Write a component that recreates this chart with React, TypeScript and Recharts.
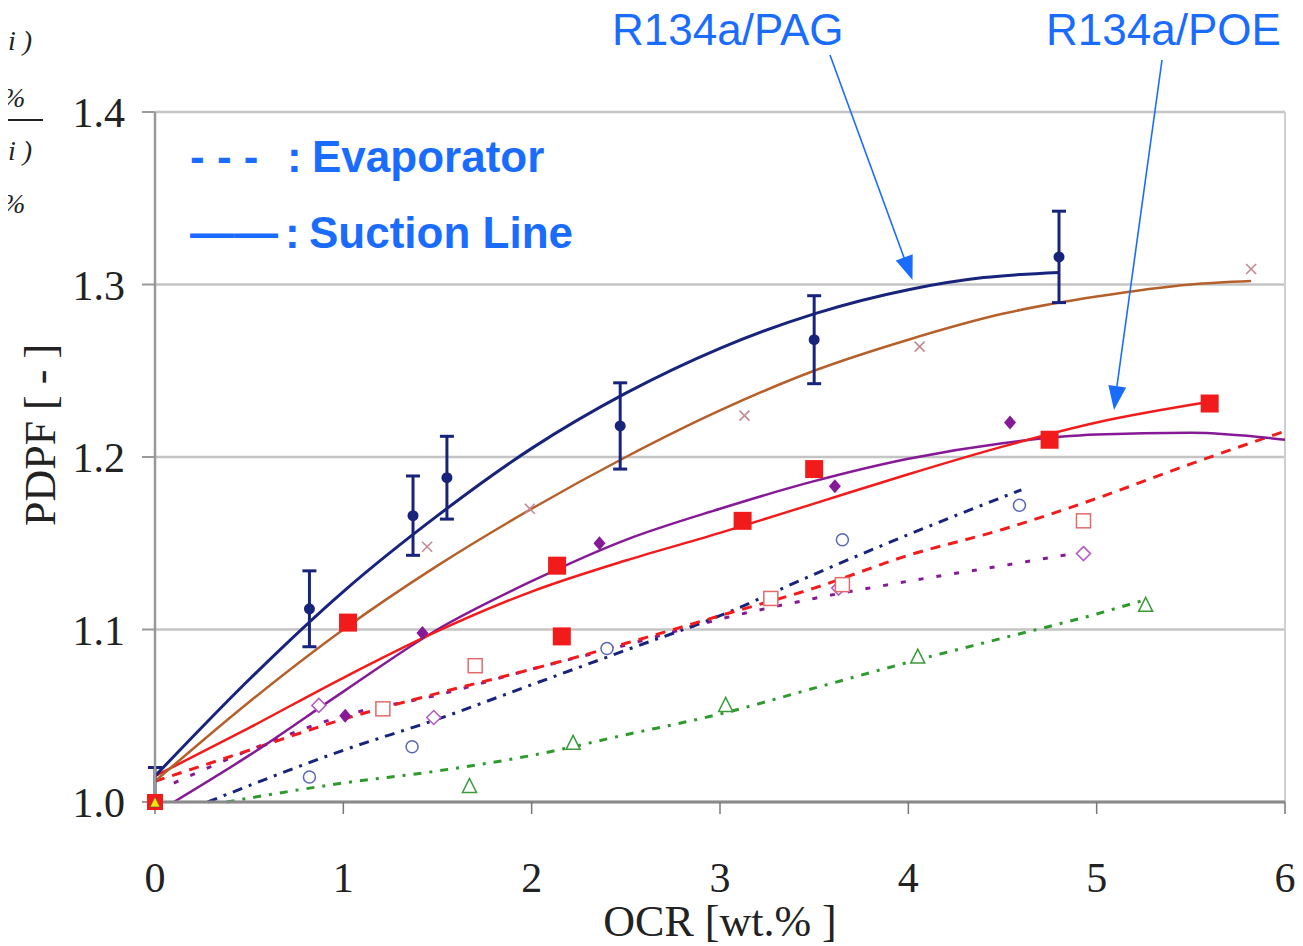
import React from "react";
import {
  ComposedChart,
  Line,
  Scatter,
  XAxis,
  YAxis,
  CartesianGrid,
  ErrorBar,
  ReferenceLine,
  Label,
} from "recharts";

// axis ticks
const xTicks = [0, 1, 2, 3, 4, 5, 6];
const yTicks = [1.0, 1.1, 1.2, 1.3, 1.4];

// R134a/PAG suction line, measured points with error bars
const pagSucX = [0, 0.82, 1.37, 1.55, 2.47, 3.5, 4.8];
const pagSucY = [1.0, 1.112, 1.166, 1.188, 1.218, 1.268, 1.316];
const pagSucErr = [0.02, 0.022, 0.023, 0.024, 0.025, 0.0255, 0.0265];
// fitted curve
const pagSucFitX = [0, 0.5, 1, 1.5, 2, 2.5, 3, 3.5, 4, 4.4, 4.8];
const pagSucFitY = [1.015, 1.071, 1.122, 1.166, 1.205, 1.237, 1.263, 1.283, 1.297, 1.304, 1.307];

// brown curve with x markers
const brownX = [1.445, 1.99, 3.13, 4.06, 5.82];
const brownY = [1.148, 1.17, 1.224, 1.264, 1.309];
const brownFitX = [0, 0.5, 1, 1.5, 2, 2.5, 3, 3.5, 4, 4.5, 5, 5.5, 5.82];
const brownFitY = [1.012, 1.058, 1.1, 1.137, 1.17, 1.2, 1.227, 1.25, 1.268, 1.283, 1.293, 1.3, 1.302];

// R134a/POE suction line, red squares
const poeSucX = [1.025, 2.16, 2.135, 3.12, 3.5, 4.75, 5.6];
const poeSucY = [1.104, 1.096, 1.137, 1.163, 1.193, 1.21, 1.231];
const poeSucFitX = [0, 0.5, 1, 1.5, 2, 2.5, 3, 3.5, 4, 4.5, 5, 5.6];
const poeSucFitY = [1.015, 1.043, 1.072, 1.099, 1.122, 1.14, 1.156, 1.173, 1.19, 1.206, 1.22, 1.232];

// purple suction curve, filled diamonds
const purpleSucX = [1.01, 1.42, 2.36, 3.61, 4.54];
const purpleSucY = [1.05, 1.098, 1.15, 1.183, 1.22];
const purpleSucFitX = [0.1, 0.5, 1, 1.5, 2, 2.5, 3, 3.5, 4, 4.5, 5, 5.5, 6];
const purpleSucFitY = [1.0, 1.027, 1.064, 1.1, 1.128, 1.152, 1.17, 1.186, 1.199, 1.208, 1.213, 1.214, 1.21];

// evaporator: navy open circles
const navyEvapX = [0.82, 1.365, 2.4, 3.65, 4.59];
const navyEvapY = [1.0145, 1.032, 1.089, 1.152, 1.172];
const navyEvapFitX = [0.28, 1, 1.5, 2, 2.5, 3, 3.5, 4, 4.6];
const navyEvapFitY = [1.0, 1.03, 1.048, 1.068, 1.088, 1.108, 1.132, 1.155, 1.181];

// evaporator: red open squares
const redEvapX = [1.21, 1.7, 3.27, 3.65, 4.93];
const redEvapY = [1.054, 1.079, 1.118, 1.126, 1.163];
const redEvapFitX = [0, 0.5, 1, 1.5, 2, 2.5, 3, 3.5, 4, 4.5, 5, 5.5, 6];
const redEvapFitY = [1.012, 1.03, 1.048, 1.063, 1.077, 1.092, 1.108, 1.124, 1.143, 1.158, 1.176, 1.196, 1.215];

// evaporator: purple open diamonds
const purpleEvapX = [0.87, 1.48, 3.63, 4.93];
const purpleEvapY = [1.056, 1.049, 1.124, 1.144];
const purpleEvapFitX = [0.1, 0.5, 1, 1.5, 2, 2.5, 3, 3.5, 4, 4.5, 4.93];
const purpleEvapFitY = [1.011, 1.03, 1.05, 1.062, 1.077, 1.091, 1.106, 1.118, 1.128, 1.137, 1.145];

// evaporator: green open triangles
const greenEvapX = [1.67, 2.22, 3.03, 4.05, 5.26];
const greenEvapY = [1.009, 1.034, 1.056, 1.084, 1.114];
const greenEvapFitX = [0.38, 1, 1.5, 2, 2.5, 3, 3.5, 4, 4.5, 5, 5.25];
const greenEvapFitY = [1.0, 1.011, 1.018, 1.027, 1.039, 1.051, 1.066, 1.081, 1.095, 1.109, 1.117];

// reference point at origin
const originX = [0];
const originY = [1.0];

const pts = (xs: number[], ys: number[]) => xs.map((x, i) => ({ x, y: ys[i] }));

const NAVY = "#18237c";
const BROWN = "#b5602a";
const RED = "#f21b1b";
const PURPLE = "#861a96";
const GREEN = "#2e9a2e";
const BLUE = "#1a6cff";
const SERIF = "'Liberation Serif', 'Times New Roman', serif";
const SANS = "'Liberation Sans', Arial, sans-serif";

const FilledCircle = ({ cx, cy }: any) => <circle cx={cx} cy={cy} r={5.5} fill={NAVY} />;
const Cross = ({ cx, cy }: any) => (
  <g stroke="#c48a92" strokeWidth={1.6}>
    <line x1={cx - 5} y1={cy - 5} x2={cx + 5} y2={cy + 5} />
    <line x1={cx - 5} y1={cy + 5} x2={cx + 5} y2={cy - 5} />
  </g>
);
const FilledSquare = ({ cx, cy }: any) => <rect x={cx - 9} y={cy - 9} width={18} height={18} fill={RED} />;
const FilledDiamond = ({ cx, cy }: any) => (
  <polygon points={`${cx},${cy - 7} ${cx + 6},${cy} ${cx},${cy + 7} ${cx - 6},${cy}`} fill={PURPLE} />
);
const OpenCircle = ({ cx, cy }: any) => (
  <circle cx={cx} cy={cy} r={6} fill="#fff" stroke="#5a66b8" strokeWidth={1.5} />
);
const OpenSquare = ({ cx, cy }: any) => (
  <rect x={cx - 7} y={cy - 7} width={14} height={14} fill="#fff" stroke="#e46a6a" strokeWidth={1.5} />
);
const OpenDiamond = ({ cx, cy }: any) => (
  <polygon
    points={`${cx},${cy - 7} ${cx + 7},${cy} ${cx},${cy + 7} ${cx - 7},${cy}`}
    fill="#fff"
    stroke="#b45ac4"
    strokeWidth={1.5}
  />
);
const OpenTriangle = ({ cx, cy }: any) => (
  <polygon
    points={`${cx},${cy - 8} ${cx + 7},${cy + 6} ${cx - 7},${cy + 6}`}
    fill="#fff"
    stroke="#3a9a3a"
    strokeWidth={1.5}
  />
);
const OriginMark = ({ cx, cy }: any) => (
  <g>
    <rect x={cx - 8} y={cy - 8} width={16} height={16} fill={RED} />
    <polygon points={`${cx},${cy - 5} ${cx + 5},${cy + 5} ${cx - 5},${cy + 5}`} fill="#f2e600" stroke="#555" strokeWidth={0.6} />
  </g>
);

const XTick = ({ x, y, payload }: any) => (
  <text x={x} y={y + 78} textAnchor="middle" fontFamily={SERIF} fontSize={42} fill="#222">
    {payload.value}
  </text>
);
const YTick = ({ x, y, payload }: any) => (
  <text x={x - 17} y={y + 15} textAnchor="end" fontFamily={SERIF} fontSize={42} fill="#222">
    {Number(payload.value).toFixed(1)}
  </text>
);

function arrowHead(x1: number, y1: number, x2: number, y2: number) {
  const dx = x2 - x1;
  const dy = y2 - y1;
  const len = Math.sqrt(dx * dx + dy * dy);
  const ux = dx / len;
  const uy = dy / len;
  const bx = x2 - ux * 24;
  const by = y2 - uy * 24;
  return `${x2},${y2} ${bx - uy * 9},${by + ux * 9} ${bx + uy * 9},${by - ux * 9}`;
}

export default function App() {
  return (
    <div style={{ position: "relative", width: 1295, height: 938 }}>
      <ComposedChart width={1295} height={938} margin={{ top: 104, right: 18, bottom: 0, left: 0 }}>
        <CartesianGrid vertical={false} stroke="#c4c4c4" strokeWidth={2.5} />
        <XAxis
          type="number"
          dataKey="x"
          domain={[0, 6]}
          ticks={xTicks}
          height={144}
          tickSize={12}
          tickMargin={0}
          tick={<XTick />}
          axisLine={{ stroke: "#8a8a8a", strokeWidth: 3 }}
          tickLine={{ stroke: "#777", strokeWidth: 1.5 }}
        >
          <Label
            value="OCR [wt.% ]"
            position="insideBottom"
            offset={10}
            style={{ fontFamily: SERIF, fontSize: 44, fill: "#222" }}
          />
        </XAxis>
        <YAxis
          type="number"
          dataKey="y"
          domain={[1.0, 1.4]}
          ticks={yTicks}
          width={147}
          tickSize={13}
          tickMargin={0}
          tick={<YTick />}
          axisLine={{ stroke: "#999", strokeWidth: 2.5 }}
          tickLine={{ stroke: "#999", strokeWidth: 2 }}
        />
        <ReferenceLine x={6} stroke="#d0d0d0" strokeWidth={2} />

        <Line data={pts(greenEvapFitX, greenEvapFitY)} dataKey="y" type="monotone" stroke={GREEN} strokeWidth={3} strokeDasharray="8 8 3 8" dot={false} isAnimationActive={false} />
        <Line data={pts(purpleEvapFitX, purpleEvapFitY)} dataKey="y" type="monotone" stroke={PURPLE} strokeWidth={3} strokeDasharray="5 13" dot={false} isAnimationActive={false} />
        <Line data={pts(navyEvapFitX, navyEvapFitY)} dataKey="y" type="monotone" stroke={NAVY} strokeWidth={3} strokeDasharray="10 7 3 7" dot={false} isAnimationActive={false} />
        <Line data={pts(redEvapFitX, redEvapFitY)} dataKey="y" type="monotone" stroke={RED} strokeWidth={3} strokeDasharray="10 8" dot={false} isAnimationActive={false} />

        <Line data={pts(purpleSucFitX, purpleSucFitY)} dataKey="y" type="monotone" stroke={PURPLE} strokeWidth={2.5} dot={false} isAnimationActive={false} />
        <Line data={pts(poeSucFitX, poeSucFitY)} dataKey="y" type="monotone" stroke={RED} strokeWidth={2.5} dot={false} isAnimationActive={false} />
        <Line data={pts(brownFitX, brownFitY)} dataKey="y" type="monotone" stroke={BROWN} strokeWidth={2.5} dot={false} isAnimationActive={false} />
        <Line data={pts(pagSucFitX, pagSucFitY)} dataKey="y" type="monotone" stroke={NAVY} strokeWidth={3} dot={false} isAnimationActive={false} />

        <Scatter data={pts(greenEvapX, greenEvapY)} shape={<OpenTriangle />} isAnimationActive={false} />
        <Scatter data={pts(purpleEvapX, purpleEvapY)} shape={<OpenDiamond />} isAnimationActive={false} />
        <Scatter data={pts(redEvapX, redEvapY)} shape={<OpenSquare />} isAnimationActive={false} />
        <Scatter data={pts(navyEvapX, navyEvapY)} shape={<OpenCircle />} isAnimationActive={false} />
        <Scatter data={pts(brownX, brownY)} shape={<Cross />} isAnimationActive={false} />
        <Scatter data={pts(purpleSucX, purpleSucY)} shape={<FilledDiamond />} isAnimationActive={false} />
        <Scatter data={pts(poeSucX, poeSucY)} shape={<FilledSquare />} isAnimationActive={false} />
        <Scatter
          data={pagSucX.map((x, i) => ({ x, y: pagSucY[i], err: i === 0 ? [0, pagSucErr[i]] : [pagSucErr[i], pagSucErr[i]] }))}
          shape={<FilledCircle />}
          isAnimationActive={false}
        >
          <ErrorBar dataKey="err" direction="y" width={7} stroke={NAVY} strokeWidth={3} />
        </Scatter>
        <Scatter data={pts(originX, originY)} shape={<OriginMark />} isAnimationActive={false} />
      </ComposedChart>

      <svg
        width={1295}
        height={938}
        style={{ position: "absolute", left: 0, top: 0, overflow: "visible", pointerEvents: "none" }}
      >
        {/* formula fragment at the top left edge */}
        <g fontFamily={SERIF} fontStyle="italic" fontSize={28} fill="#222">
          <text x={0} y={42}>i )</text>
          <text x={-6} y={99}>%</text>
          <line x1={-8} y1={112} x2={35} y2={112} stroke="#222" strokeWidth={2} />
          <text x={0} y={152}>i )</text>
          <text x={-6} y={205}>%</text>
        </g>

        <text
          transform="translate(32,427) rotate(-90)"
          textAnchor="middle"
          dominantBaseline="central"
          fontFamily={SERIF}
          fontSize={44}
          fill="#222"
        >
          PDPF [ - ]
        </text>

        <g fontFamily={SANS} fontWeight="bold" fontSize={44} fill={BLUE}>
          <text x={182} y={164}>- - -</text>
          <text x={279} y={164}>:</text>
          <text x={304} y={164}>Evaporator</text>
          <text x={182} y={240}>——</text>
          <text x={277} y={240}>:</text>
          <text x={301} y={240}>Suction Line</text>
        </g>

        <g fontFamily={SANS} fontSize={44} fill={BLUE}>
          <text x={604} y={37}>R134a/PAG</text>
          <text x={1038} y={37}>R134a/POE</text>
        </g>

        <g stroke={BLUE} strokeWidth={1.6} fill={BLUE}>
          <line x1={822} y1={47} x2={898} y2={255} />
          <polygon points={arrowHead(822, 47, 904.5, 272)} stroke="none" />
          <line x1={1154} y1={52} x2={1108} y2={385} />
          <polygon points={arrowHead(1154, 52, 1106, 402)} stroke="none" />
        </g>
      </svg>
    </div>
  );
}
